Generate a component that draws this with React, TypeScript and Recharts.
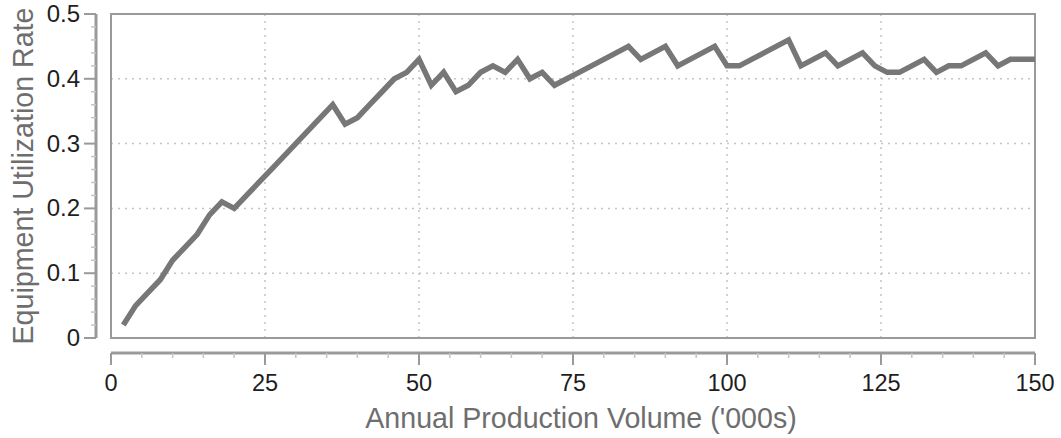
import React from "react";
import {
  LineChart,
  Line,
  XAxis,
  YAxis,
  CartesianGrid,
  ReferenceArea,
} from "recharts";

const volumes = [
  2, 4, 6, 8, 10, 12, 14, 16, 18, 20, 22, 24, 26, 28, 30, 32, 34, 36, 38, 40,
  42, 44, 46, 48, 50, 52, 54, 56, 58, 60, 62, 64, 66, 68, 70, 72, 74, 76, 78,
  80, 82, 84, 86, 88, 90, 92, 94, 96, 98, 100, 102, 104, 106, 108, 110, 112,
  114, 116, 118, 120, 122, 124, 126, 128, 130, 132, 134, 136, 138, 140, 142,
  144, 146, 148, 150,
];

const utilization = [
  0.02, 0.05, 0.07, 0.09, 0.12, 0.14, 0.16, 0.19, 0.21, 0.2, 0.22, 0.24, 0.26,
  0.28, 0.3, 0.32, 0.34, 0.36, 0.33, 0.34, 0.36, 0.38, 0.4, 0.41, 0.43, 0.39,
  0.41, 0.38, 0.39, 0.41, 0.42, 0.41, 0.43, 0.4, 0.41, 0.39, 0.4, 0.41, 0.42,
  0.43, 0.44, 0.45, 0.43, 0.44, 0.45, 0.42, 0.43, 0.44, 0.45, 0.42, 0.42, 0.43,
  0.44, 0.45, 0.46, 0.42, 0.43, 0.44, 0.42, 0.43, 0.44, 0.42, 0.41, 0.41, 0.42,
  0.43, 0.41, 0.42, 0.42, 0.43, 0.44, 0.42, 0.43, 0.43, 0.43,
];

const xMajorTicks = [0, 25, 50, 75, 100, 125, 150];
const xAllTicks = [
  0, 5, 10, 15, 20, 25, 30, 35, 40, 45, 50, 55, 60, 65, 70, 75, 80, 85, 90, 95,
  100, 105, 110, 115, 120, 125, 130, 135, 140, 145, 150,
];
const yMajorTicks = [0, 0.1, 0.2, 0.3, 0.4, 0.5];
const yAllTicks = [
  0, 0.02, 0.04, 0.06, 0.08, 0.1, 0.12, 0.14, 0.16, 0.18, 0.2, 0.22, 0.24,
  0.26, 0.28, 0.3, 0.32, 0.34, 0.36, 0.38, 0.4, 0.42, 0.44, 0.46, 0.48, 0.5,
];

const xTitle = "Annual Production Volume ('000s)";
const yTitle = "Equipment Utilization Rate";

const data = volumes.map((v, i) => ({ volume: v, rate: utilization[i] }));

const FONT = "'Liberation Sans', Arial, Helvetica, sans-serif";
const AXIS_COLOR = "#9a9a9a";

const isMajorX = (v: number) => xMajorTicks.includes(v);
const isMajorY = (v: number) =>
  yMajorTicks.some((m) => Math.abs(m - v) < 1e-9);

const XTick = (props: any) => {
  const { x, y, payload } = props;
  const major = isMajorX(payload.value);
  return (
    <g>
      <line
        x1={x}
        x2={x}
        y1={y}
        y2={y + (major ? 12 : 5)}
        stroke={major ? AXIS_COLOR : "#c4c4c4"}
        strokeWidth={major ? 2 : 1.5}
      />
      {major && (
        <text
          x={x}
          y={y + 38}
          textAnchor="middle"
          fontFamily={FONT}
          fontSize={23.5}
          fill="#1e1e1e"
        >
          {String(payload.value)}
        </text>
      )}
    </g>
  );
};

const YTick = (props: any) => {
  const { x, y, payload } = props;
  const major = isMajorY(payload.value);
  return (
    <g>
      <line
        x1={x}
        x2={x - (major ? 12 : 5)}
        y1={y}
        y2={y}
        stroke={major ? AXIS_COLOR : "#c4c4c4"}
        strokeWidth={major ? 2 : 1.5}
      />
      {major && (
        <text
          x={x - 16}
          y={y + 8}
          textAnchor="end"
          fontFamily={FONT}
          fontSize={24}
          fill="#1e1e1e"
        >
          {String(payload.value)}
        </text>
      )}
    </g>
  );
};

const XTitle = (props: any) => {
  const vb = props.viewBox || { x: 0, y: 0, width: 0, height: 0 };
  return (
    <text
      x={vb.x + vb.width / 2 + 8}
      y={vb.y + 75}
      textAnchor="middle"
      fontFamily={FONT}
      fontSize={28.6}
      fill="#6e6e6e"
    >
      {xTitle}
    </text>
  );
};

const YTitle = (props: any) => {
  const vb = props.viewBox || { x: 0, y: 0, width: 0, height: 0 };
  const cx = vb.x + 23;
  const cy = vb.y + vb.height / 2;
  return (
    <text
      x={cx}
      y={cy}
      transform={`rotate(-90 ${cx} ${cy})`}
      textAnchor="middle"
      dominantBaseline="central"
      fontFamily={FONT}
      fontSize={28.6}
      fill="#6e6e6e"
    >
      {yTitle}
    </text>
  );
};

export default function App() {
  return (
    <div style={{ position: "absolute", left: 0, top: 0, background: "#fff" }}>
      <LineChart
        width={1061}
        height={438}
        data={data}
        margin={{ top: 14, right: 26, bottom: 0, left: 0 }}
      >
        <XAxis
          xAxisId="grid"
          type="number"
          dataKey="volume"
          domain={[0, 150]}
          ticks={xMajorTicks}
          height={15}
          axisLine={false}
          tickLine={false}
          tick={false}
        />
        <XAxis
          xAxisId="main"
          type="number"
          dataKey="volume"
          domain={[0, 150]}
          ticks={xAllTicks}
          interval={0}
          height={85}
          axisLine={{ stroke: AXIS_COLOR, strokeWidth: 3 }}
          tickLine={false}
          tickSize={0}
          tickMargin={0}
          tick={<XTick />}
          label={{ content: <XTitle /> }}
        />
        <YAxis
          yAxisId="grid"
          type="number"
          domain={[0, 0.5]}
          ticks={yMajorTicks}
          width={15}
          axisLine={false}
          tickLine={false}
          tick={false}
        />
        <YAxis
          yAxisId="main"
          type="number"
          domain={[0, 0.5]}
          ticks={yAllTicks}
          interval={0}
          width={96}
          axisLine={{ stroke: AXIS_COLOR, strokeWidth: 3 }}
          tickLine={false}
          tickSize={0}
          tickMargin={0}
          tick={<YTick />}
          label={{ content: <YTitle /> }}
        />
        <CartesianGrid
          xAxisId="main"
          yAxisId="main"
          stroke="#c4c4c4"
          strokeWidth={1.5}
          strokeDasharray="2 5"
          horizontalValues={yMajorTicks}
          verticalValues={xMajorTicks}
        />
        <ReferenceArea
          xAxisId="main"
          yAxisId="main"
          x1={0}
          x2={150}
          y1={0}
          y2={0.5}
          fill="none"
          fillOpacity={0}
          stroke={AXIS_COLOR}
          strokeWidth={2}
          ifOverflow="visible"
        />
        <Line
          xAxisId="main"
          yAxisId="main"
          type="linear"
          dataKey="rate"
          stroke="#777777"
          strokeWidth={5.5}
          dot={false}
          activeDot={false}
          isAnimationActive={false}
        />
      </LineChart>
    </div>
  );
}
